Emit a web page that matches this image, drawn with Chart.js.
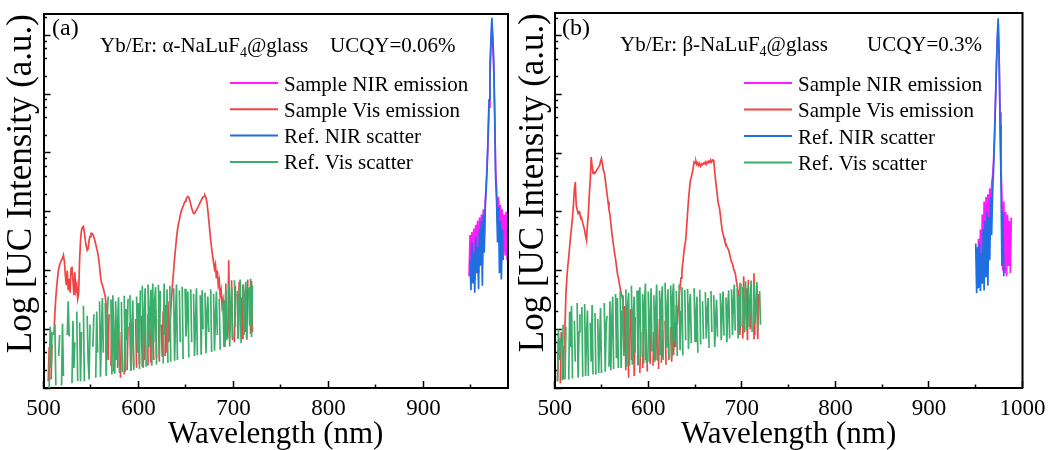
<!DOCTYPE html>
<html>
<head>
<meta charset="utf-8">
<script src="https://cdn.jsdelivr.net/npm/chart.js@4.4.0/dist/chart.umd.min.js"></script>
<style>
  html, body { margin: 0; padding: 0; background: #fff; }
  #wrap { position: relative; width: 1051px; height: 450px; overflow: hidden; }
  canvas { position: absolute; top: 0; }
  #panelA { left: 0; }
  #panelB { left: 512px; }
</style>
</head>
<body>
<div id="wrap">
  <canvas id="panelA" width="512" height="450"></canvas>
  <canvas id="panelB" width="539" height="450"></canvas>
</div>
<script>
const serif = "'Liberation Serif', 'Times New Roman', serif";

const seriesNames = ['Sample NIR emission', 'Sample Vis emission', 'Ref. NIR scatter', 'Ref. Vis scatter'];
const seriesColors = ['#ff1aff', '#f04444', '#1f6fe0', '#3aae6a'];

const xMajorA = [500, 600, 700, 800, 900];
const xMinorA = [550, 650, 750, 850, 950];
const xMajorB = [500, 600, 700, 800, 900, 1000];
const xMinorB = [550, 650, 750, 850, 950];
const yMajor = [1, 10, 100, 1e3, 1e4, 1e5, 1e6];
const yMinor = [2, 4, 6, 8, 20, 40, 60, 80, 200, 400, 600, 800, 2e3, 4e3, 6e3, 8e3,
  2e4, 4e4, 6e4, 8e4, 2e5, 4e5, 6e5, 8e5, 2e6];

// (a) alpha-NaLuF4@glass, 1 nm steps (null = negative reading, not drawn on log axis)
const visStartA = 505;
const visA = [
  1.3, 5, null, 1.4, 5.5, null, 8, 19, 35, 56,
  80, 108, 125, 138, 150, 162, 183, 140, 83, 56,
  100, 46, 73, 42, 108, 117, 68, 38, 93, 46, 56, 33, 41,
  150, 328, 486, 545, 563, 450, 328, 260, 222, 237, 328, 380, 427, 427, 412, 367, 328, 280, 237, 204, 162, 117, 79, 63, 56, 50, 42, 36, 25, 9.6,
  3, 18, null, 2.4, 14, null, 1.9, 10, null, null,
  2.2, 12, null, 1.5, 9, null, null, 1.7, 16, null,
  2, 11, null, 13, 2.1, null, 8, 2.4, null, 15,
  2.2, null, 12, 2.6, null, 17, 2.3, null, 3, 14,
  null, 2.5, 18, null, 11, 2.7, null, 19, 3, null,
  21, 3.2, null, 15, 2.8, null, 12, 3.4, 20, null,
  3.5, 24, 4, 30, 6,
  9.6, 21, 38, 63, 100, 162, 237, 355, 486, 617, 719, 870, 1020, 1140, 1230,
  1380, 1500, 1620, 1750, 1820, 1750, 1560, 1340, 1140, 1020, 940, 940, 1020, 1060, 1140, 1230, 1340, 1450, 1560, 1680, 1790, 1820, 1900, 1750, 1450,
  1060, 719, 486, 328, 237, 183, 138, 108, 127, 73, 100, 56, 68, 38, 46, 25, 31, 14,
  5, 60, null, 7, 150, 9, null, 68, 6.5, null,
  6, 55, null, 40, 6.8, 64, null, 35, 7, 58,
  null, 9, 48, 6.6, 70, null, 52, 8.4, 66, 9
];
const refVisStartA = 505;
const refVisA = [
  null, 1.0, 11, 2.2, 9, null, null, 12, 1.1, null,
  null, 3.5, 8, null, 1.1, 12.5, 1.6, null, null, null,
  8, 30, 7.5, null, null, 1.2, 14, 2.2, 6, null,
  20, 1.3, null, 13, 1.3, 9, null, 25, 1.3, null,
  null, 17, 3, 1.4, 12, null, null, 5, 18, null,
  1.5, 20, 4, null, 30, 1.55, 9, 34, 4, null,
  28, 1.6, 14, 36, null, null, 32, 1.7, 38, 6,
  1.75, 30, 3, 12, 35, 1.8, null, 29, 1.85, null,
  37, 1.9, 22, 6.5, 33, null, 38, 1.95, 10, 31,
  2, null, null, 36, 4, 28, 2.1, 46, null, 55,
  2.2, 18, 50, 2.3, null, 58, 5, 20, 47, 2.4,
  60, 6, 30, 52, 2.5, null, 57, 3.5, 45, null,
  null, 2.6, 60, 8, 25, 48, 2.7, null, 55, 2.8,
  null, null, 50, 2.9, 15, 58, 3, null, 46, 6,
  null, 53, 3.1, null, 49, 7.5, 20, 44, 3.3, null,
  48, 6, null, 40, 3.5, 12, 50, 3.6, null, null,
  38, 3.7, 46, 10, null, 42, 3.9, 18, 36, 9,
  null, 48, 4.1, null, 40, 4.3, 15, 44, 8, null,
  33, 4.5, null, null, 29, 5, 20, 48, 6.5, null,
  60, 5.1, 25, 52, 7, null, 68, 11, null, 45,
  6.8, 30, 70, 5.8, null, 58, 8, 40, 64, 7,
  null, 50, 11.5, 72, 7.4, 55
];
const nirStartA = 948;
const nirA = [
  80, 400, 60, 450, 120, 520, 70, 600, 150, 700,
  90, 800, 200, 900, 130, 1100, 350, 1500, 2800, 5500,
  15000, 60000, 200000, 600000, 1500000, 700000, 250000, 40000, 5000, 2500,
  600, 1800, 350, 1300, 250, 1100, 200, 900, 180, 1000,
  150, 700, 400
];
const refNirStartA = 949;
const refNirA = [
  150, 46, 300, 60, 200, 42, 380, 90, 250, 48,
  500, 120, 700, 55, 900, 200, 1100, 2300, 6000, 20000,
  80000, 290000, 840000, 2000000, 1000000, 380000, 53000, 3500, 1500, 300,
  1200, 90, 700, 70, 500, 150
];

// (b) beta-NaLuF4@glass, 1 nm steps
const visStartB = 503;
const visB = [
  1.3, 6, null, 1.2, 9, null, 1.4, 5, 11, 40,
  75, 120, 170, 260, 380, 553, 800, 1300, 2400, 3230,
  1300, 1100, 950, 1000, 880, 820, 760, 640, 560, 486,
  390, 328, 600, 950, 2000, 3450, 8600, 6000, 4550, 4800,
  4600, 4790, 5200, 5500, 5800, 6200, 7200, 8090, 6500, 5100,
  4790, 3600, 2680, 2000, 1500, 1100, 900, 650, 450, 340,
  260, 197, 160, 120, 90, 75, 61, 50, 42, 36, 30,
  4, 25, 2, null, 18, 1.5, null, 22, 3, null,
  14, 1.6, 16, null, 2.5, 12, null, 1.8, 9, null,
  2.2, 13, null, 3, 10, 1.9, null, 8, 2.6, 11,
  null, 2.4, 9, null, 3, 12, null, 2.1, 15, null,
  2.7, 10, 3.3, null, 14, 2.5, null, 17, 3, null,
  11, 2.8, 19, 3.6, 13, 5, 26,
  12, 22, 36, 52, 75, 100, 140, 200, 270, 328,
  550, 950, 1600, 2400, 3400, 3900, 4550, 5600, 7100, 6800,
  7300, 6400, 6900, 6200, 6700, 6000, 6500, 6300, 6800, 6600,
  7000, 6500, 7200, 6900, 7400, 7000, 7600, 7200, 7700, 7500,
  5000, 3450, 2500, 1800, 1350, 1200, 900, 650, 486, 420,
  360, 310, 290, 260, 240, 222, 190, 160, 140, 133,
  110, 100, 90, 70, 55, 45, 36,
  8, 60, null, 7, 80, 9, null, 50, 6.5, 70,
  null, 10, 45, null, 7, 90, 8, null, 55, 6.8, 40, null, 30
];
const refVisStartB = 503;
const refVisB = [
  1.3, 10, 3, 7, null, 1.35, 12, null, 1.4, 11,
  null, null, 1.4, 20, 5, 25, 1.45, null, 14, 2.8,
  null, 28, 1.5, 9, 18, null, 24, 1.55, null, 27,
  1.6, 8, 21, 1.6, null, 13, 2.8, 26, 1.7, null,
  19, 1.7, null, 15, 1.8, 6, 23, 1.8, null, null,
  28, 1.9, 12, 17, null, 2.3, 30, 2, 15, 36,
  2.1, null, 40, 3.2, 34, 2.2, null, 45, 2.2, 20,
  38, 3.5, null, 48, 2.3, 25, 42, 2.4, null, 55,
  2.5, 18, 36, 4, null, 46, 2.5, 30, 52, 3.4,
  null, 40, 2.6, 28, 60, 2.7, null, 44, 2.8, 15,
  50, 4.2, null, 38, 2.8, 22, 58, 2.9, null, 46,
  3.6, 30, 54, 3, null, 62, 5, 20, 48, 3.2,
  null, 56, 3.3, 35, 60, 6, null, 45, 3.5, null,
  58, 4.4, 20, 52, 3.6, null, 47, 6.5, null, 49,
  4.6, 25, 40, 5.8, null, null, 50, 6.2, 18, 36,
  4, null, 47, 5.5, null, 30, 6.8, null, 43, 7,
  20, 34, 4.8, null, 45, 9, null, 38, 5, 15,
  32, 7.5, null, null, 41, 6.5, 22, 44, 7.8, null,
  35, 6, 25, 46, 7, null, 48, 8, 30, 58,
  9.5, null, 50, 7, 35, 62, 11, null, 52, 8.5,
  20, 66, 9.6, null, 56, 11, 30, 68, 9, null,
  60, 12.5, 25, 64, 10, null, 45, 12
];
const nirStartB = 952;
const nirB = [
  60, 350, 80, 500, 70, 900, 120, 1500, 100, 1800,
  200, 2000, 300, 2500, 800, 3000, 4000, 7000, 20000, 70000,
  280000, 800000, 1600000, 400000, 50000, 6000, 1800, 100, 1500, 90,
  1000, 80, 900, 120, 700, 90, 800
];
const refNirStartB = 950;
const refNirB = [
  290, 41, 250, 50, 300, 45, 200, 60, 500, 46,
  700, 80, 1000, 55, 800, 150, 1800, 400, 2000, 5000,
  15000, 60000, 250000, 900000, 2000000, 500000, 30000, 3400, 120, 1000,
  80
];

const toPoints = (start, values) => values.map((v, i) => ({ x: start + i, y: v }));

const panelText = {
  id: 'panelText',
  afterDraw(chart, args, o) {
    const { ctx, chartArea: a } = chart;
    ctx.save();
    ctx.strokeStyle = '#000';
    ctx.lineWidth = 2;
    ctx.beginPath();
    ctx.moveTo(a.left, a.top);
    ctx.lineTo(a.right, a.top);
    ctx.lineTo(a.right, a.bottom);
    ctx.stroke();

    ctx.fillStyle = '#000';
    ctx.textBaseline = 'alphabetic';
    ctx.font = `24px ${serif}`;
    ctx.fillText(o.tag, o.tagX, o.tagY);

    let x = o.textX;
    ctx.font = `21px ${serif}`;
    ctx.fillText(o.text[0], x, o.textY);
    x += ctx.measureText(o.text[0]).width;
    ctx.font = `14px ${serif}`;
    ctx.fillText(o.text[1], x, o.textY + 5);
    x += ctx.measureText(o.text[1]).width;
    ctx.font = `21px ${serif}`;
    ctx.fillText(o.text[2], x, o.textY);
    ctx.fillText(o.qy, o.qyX, o.textY);

    chart.data.datasets.forEach((ds, i) => {
      const y = o.legendY + i * o.legendGap;
      ctx.strokeStyle = ds.borderColor;
      ctx.lineWidth = 2;
      ctx.beginPath();
      ctx.moveTo(o.legendX, y);
      ctx.lineTo(o.legendX + 48, y);
      ctx.stroke();
      ctx.fillText(ds.label, o.legendX + 54, y + 7.5);
    });
    ctx.restore();
  }
};

const setTicks = (values) => (axis) => { axis.ticks = values.map(v => ({ value: v })); };

function buildChart(id, p) {
  const tickGrid = (len) => ({ drawOnChartArea: false, tickLength: len, tickWidth: 1.5, tickColor: '#000' });
  return new Chart(document.getElementById(id), {
    type: 'line',
    data: {
      datasets: [
        { label: seriesNames[0], data: toPoints(p.nirStart, p.nir), borderColor: seriesColors[0], order: 4 },
        { label: seriesNames[1], data: toPoints(p.visStart, p.vis), borderColor: seriesColors[1], order: 3 },
        { label: seriesNames[2], data: toPoints(p.refNirStart, p.refNir), borderColor: seriesColors[2], order: 2 },
        { label: seriesNames[3], data: toPoints(p.refVisStart, p.refVis), borderColor: seriesColors[3], order: 1 }
      ].map(ds => ({ ...ds, xAxisID: 'x', yAxisID: 'y' }))
    },
    options: {
      responsive: false,
      animation: false,
      devicePixelRatio: 1,
      layout: { padding: { top: p.padTop, right: p.padRight, left: 0, bottom: 0 } },
      elements: { point: { radius: 0 }, line: { borderWidth: 1.7, tension: 0 } },
      plugins: { legend: { display: false }, tooltip: { enabled: false }, panelText: p.text },
      scales: {
        x: {
          type: 'linear', position: 'bottom', weight: 1, min: 500, max: p.xMax,
          afterBuildTicks: setTicks(p.xMajor),
          afterFit: (ax) => { ax.height = 62; ax.paddingLeft = 0; ax.paddingRight = 0; },
          grid: tickGrid(-7),
          border: { color: '#000', width: 2 },
          ticks: { color: '#000', font: { family: serif, size: 23 }, padding: 14, maxRotation: 0, autoSkip: false, callback: v => String(v) },
          title: { display: true, text: 'Wavelength (nm)', color: '#000', font: { family: serif, size: 31, lineHeight: 1 }, padding: 0 }
        },
        xm: {
          axis: 'x', type: 'linear', position: 'bottom', weight: 0, min: 500, max: p.xMax,
          afterBuildTicks: setTicks(p.xMinor),
          afterFit: (ax) => { ax.height = 0; ax.paddingLeft = 0; ax.paddingRight = 0; },
          grid: tickGrid(-3.5),
          border: { display: false },
          ticks: { display: false }
        },
        y: {
          type: 'logarithmic', position: 'left', weight: 1, min: 1, max: p.yMax,
          afterBuildTicks: setTicks(yMajor),
          afterFit: (ax) => { ax.width = p.yWidth; },
          grid: tickGrid(-7),
          border: { color: '#000', width: 2 },
          ticks: { display: false },
          title: { display: true, text: 'Log [UC Intensity (a.u.)', align: 'end', color: '#000', font: { family: serif, size: 35, lineHeight: 1 }, padding: { top: 4, bottom: 0 } }
        },
        ym: {
          axis: 'y', type: 'logarithmic', position: 'left', weight: 0, min: 1, max: p.yMax,
          afterBuildTicks: setTicks(yMinor),
          afterFit: (ax) => { ax.width = 0; },
          grid: tickGrid(-3.5),
          border: { display: false },
          ticks: { display: false }
        }
      }
    },
    plugins: [panelText]
  });
}

buildChart('panelA', {
  nirStart: nirStartA, nir: nirA, visStart: visStartA, vis: visA,
  refNirStart: refNirStartA, refNir: refNirA, refVisStart: refVisStartA, refVis: refVisA,
  xMax: 989, xMajor: xMajorA, xMinor: xMinorA, yMax: 2.32e6,
  padTop: 14, padRight: 4, yWidth: 43.5,
  text: {
    tag: '(a)', tagX: 52, tagY: 35,
    text: ['Yb/Er: \u03b1-NaLuF', '4', '@glass'], textX: 100, textY: 51.5,
    qy: 'UCQY=0.06%', qyX: 330,
    legendX: 230, legendY: 83, legendGap: 26.3
  }
});

buildChart('panelB', {
  nirStart: nirStartB, nir: nirB, visStart: visStartB, vis: visB,
  refNirStart: refNirStartB, refNir: refNirB, refVisStart: refVisStartB, refVis: refVisB,
  xMax: 1000, xMajor: xMajorB, xMinor: xMinorB, yMax: 2.45e6,
  padTop: 13, padRight: 28.5, yWidth: 42.7,
  text: {
    tag: '(b)', tagX: 50, tagY: 35,
    text: ['Yb/Er: \u03b2-NaLuF', '4', '@glass'], textX: 108, textY: 51,
    qy: 'UCQY=0.3%', qyX: 355,
    legendX: 232, legendY: 83, legendGap: 26.5
  }
});
</script>
</body>
</html>
